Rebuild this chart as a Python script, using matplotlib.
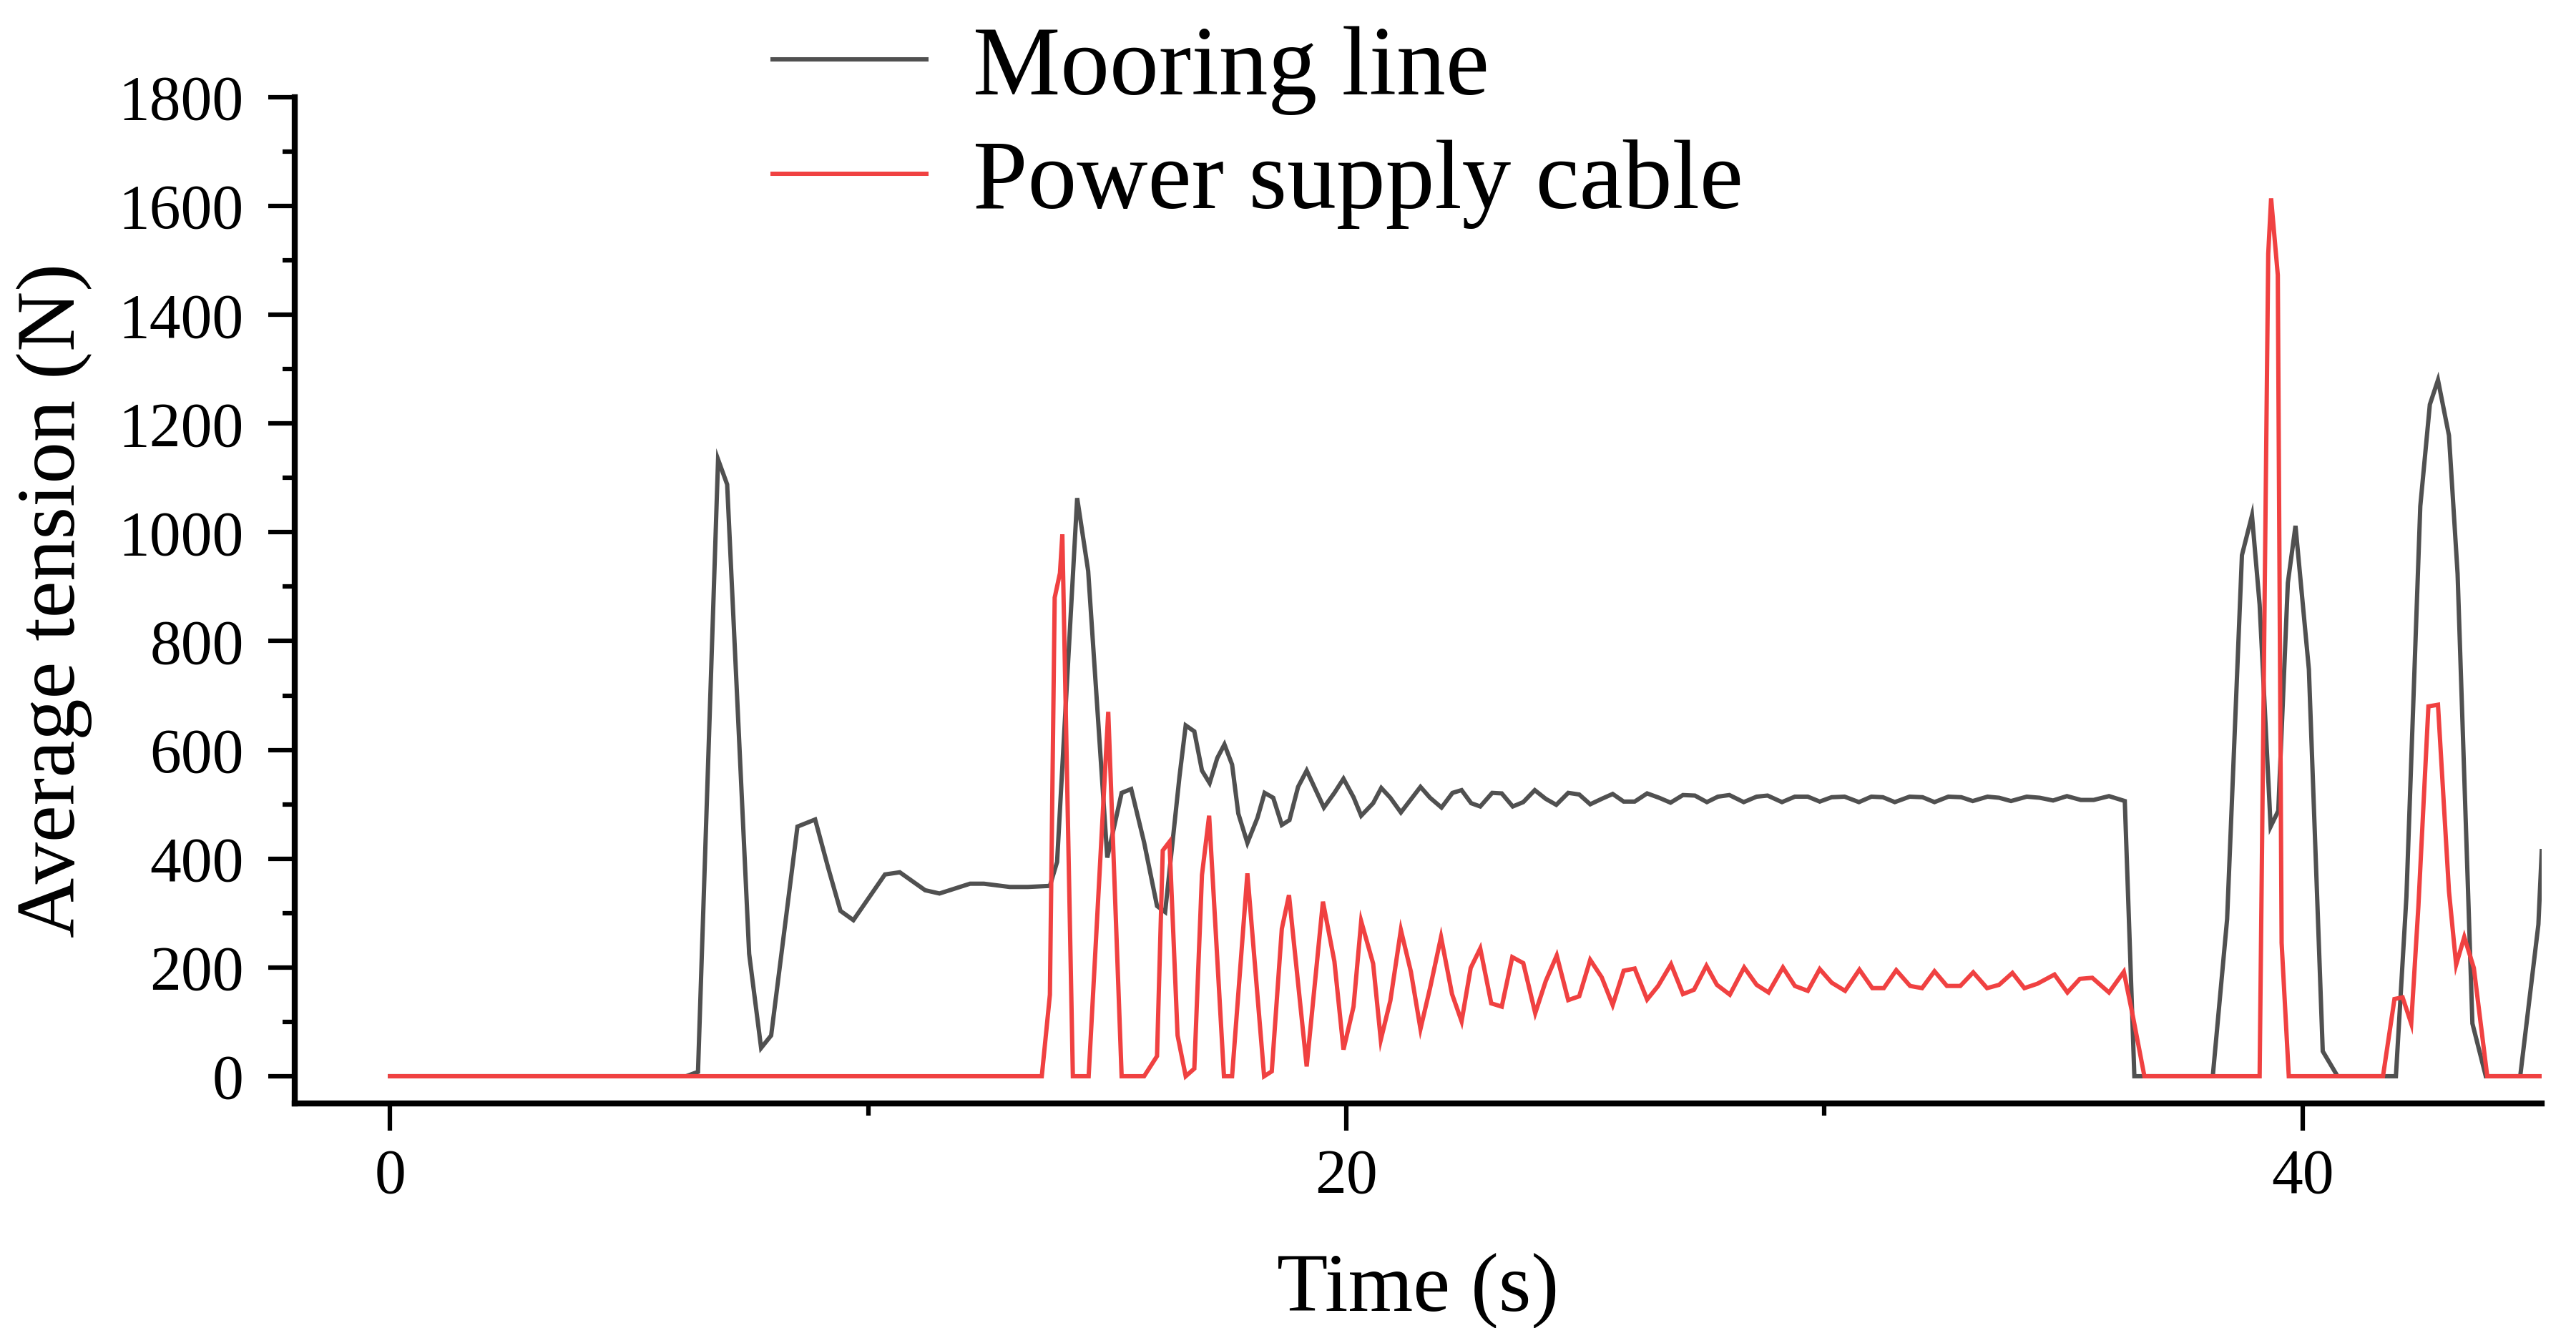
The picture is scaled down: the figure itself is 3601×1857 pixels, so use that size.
import matplotlib
matplotlib.use("Agg")
import matplotlib.pyplot as plt
from matplotlib.ticker import MultipleLocator

# ---- data ----
time_mooring = [0, 6.19, 6.44, 6.86, 7.05, 7.51, 7.76, 7.97, 8.25, 8.52, 8.89, 9.16, 9.42, 9.69,
                10.35, 10.66, 11.19, 11.49, 12.13, 12.42, 12.96, 13.34, 13.80, 13.95, 14.37, 14.60,
                15.00, 15.30, 15.50, 15.77, 16.04, 16.21, 16.51, 16.64, 16.82, 16.98, 17.14, 17.30,
                17.45, 17.61, 17.74, 17.93, 18.14, 18.29, 18.47, 18.65, 18.81, 18.99, 19.17, 19.53,
                19.75, 19.94, 20.15, 20.31, 20.56, 20.73, 20.92, 21.14, 21.35, 21.55, 21.75, 21.99,
                22.22, 22.41, 22.61, 22.80, 23.05, 23.25, 23.48, 23.70, 23.94, 24.17, 24.39, 24.64,
                24.87, 25.10, 25.34, 25.57, 25.80, 26.03, 26.29, 26.54, 26.78, 27.04, 27.29, 27.54,
                27.77, 28.01, 28.31, 28.58, 28.81, 29.11, 29.38, 29.65, 29.90, 30.15, 30.42, 30.72,
                30.98, 31.22, 31.47, 31.78, 32.05, 32.30, 32.59, 32.86, 33.10, 33.41, 33.65, 33.90,
                34.23, 34.50, 34.78, 35.07, 35.36, 35.63, 35.95, 36.28, 36.48, 38.12, 38.42, 38.73,
                38.94, 39.10, 39.33, 39.49, 39.69, 39.85, 40.13, 40.42, 40.73, 41.95, 42.17, 42.46,
                42.66, 42.83, 43.06, 43.24, 43.55, 43.83, 44.55, 44.93, 45.0]
tension_mooring = [0, 0, 8, 1134, 1088, 225, 52, 75, 270, 459, 472, 384, 304, 287,
                   371, 375, 342, 336, 354, 354, 348, 348, 350, 394, 1063, 929,
                   402, 521, 528, 430, 313, 302, 551, 645, 634, 562, 539, 585,
                   610, 573, 483, 429, 475, 521, 512, 462, 471, 532, 562, 494,
                   521, 547, 513, 479, 502, 530, 512, 485, 509, 532, 512, 494,
                   521, 526, 502, 496, 521, 520, 496, 504, 526, 510, 499, 521,
                   518, 500, 510, 519, 505, 505, 520, 512, 503, 517, 516, 504,
                   514, 517, 504, 514, 516, 504, 514, 514, 505, 513, 514, 504,
                   514, 513, 504, 514, 513, 504, 514, 513, 506, 514, 512, 506,
                   514, 512, 507, 515, 508, 508, 515, 506, 0, 0, 289, 958,
                   1031, 867, 459, 488, 907, 1012, 748, 46, 0, 0, 330, 1048,
                   1235, 1280, 1178, 924, 97, 0, 0, 279, 414]

time_cable = [0, 13.63, 13.80, 13.90, 14.01, 14.06, 14.28, 14.61, 15.02, 15.30, 15.77, 16.04,
              16.16, 16.30, 16.47, 16.64, 16.82, 16.98, 17.13, 17.44, 17.61, 17.93, 18.28, 18.44,
              18.65, 18.80, 19.17, 19.51, 19.75, 19.94, 20.15, 20.31, 20.56, 20.72, 20.92, 21.14,
              21.35, 21.55, 21.75, 21.98, 22.21, 22.41, 22.60, 22.80, 23.03, 23.25, 23.47, 23.70,
              23.95, 24.17, 24.40, 24.64, 24.87, 25.10, 25.34, 25.57, 25.80, 26.03, 26.29, 26.52,
              26.79, 27.04, 27.27, 27.53, 27.75, 28.02, 28.32, 28.58, 28.83, 29.13, 29.38, 29.65,
              29.90, 30.15, 30.43, 30.73, 31.00, 31.24, 31.50, 31.79, 32.04, 32.30, 32.56, 32.84,
              33.11, 33.40, 33.65, 33.93, 34.18, 34.45, 34.81, 35.08, 35.34, 35.60, 35.95, 36.26,
              36.45, 36.69, 39.10, 39.28, 39.34, 39.48, 39.56, 39.71, 41.68, 41.92, 42.09, 42.27,
              42.42, 42.63, 42.83, 43.06, 43.21, 43.38, 43.58, 43.86, 45.0]
tension_cable = [0, 0, 150, 880, 925, 996, 0, 0, 670, 0, 0, 37,
                 415, 431, 75, 0, 14, 370, 479, 0, 0, 373, 0, 9,
                 271, 333, 18, 321, 211, 49, 128, 285, 207, 67, 139, 269,
                 192, 87, 162, 256, 151, 101, 199, 235, 134, 128, 219, 208,
                 116, 175, 222, 140, 147, 214, 182, 131, 194, 198, 141, 166,
                 206, 151, 159, 203, 168, 150, 200, 168, 154, 200, 166, 157,
                 197, 172, 157, 196, 162, 162, 195, 166, 162, 193, 166, 166,
                 191, 162, 168, 190, 162, 170, 187, 154, 179, 181, 154, 192,
                 110, 0, 0, 1512, 1614, 1473, 245, 0, 0, 142, 145, 97,
                 312, 680, 683, 340, 205, 256, 199, 0, 0]

series_labels = ["Mooring line", "Power supply cable"]
series_colors = ["#505050", "#F04141"]
y_ticks = [0, 200, 400, 600, 800, 1000, 1200, 1400, 1600, 1800]
x_ticks = [0, 20, 40]

plt.rcParams['font.family'] = ['Liberation Serif', 'DejaVu Serif']

fig = plt.figure(figsize=(3601 / 300, 1857 / 300), dpi=300)
ax = fig.add_axes([0.1143, 0.1691, 0.8724, 0.7577])

ax.plot(time_mooring, tension_mooring, color=series_colors[0], lw=1.45,
        label=series_labels[0], solid_joinstyle='miter')
ax.plot(time_cable, tension_cable, color=series_colors[1], lw=1.45,
        label=series_labels[1], solid_joinstyle='miter')

ax.set_xlim(-2, 45)
ax.set_ylim(-50, 1800)
ax.set_xticks(x_ticks)
ax.set_yticks(y_ticks)
ax.xaxis.set_minor_locator(MultipleLocator(10))
ax.yaxis.set_minor_locator(MultipleLocator(100))

for s in ['top', 'right']:
    ax.spines[s].set_visible(False)
for s in ['left', 'bottom']:
    ax.spines[s].set_linewidth(2.0)
    ax.spines[s].set_capstyle('projecting')

ax.tick_params(axis='both', which='major', length=9, width=1.5, labelsize=21, direction='out')
ax.tick_params(axis='both', which='minor', length=4, width=1.5, direction='out')
ax.tick_params(axis='x', which='major', pad=6)
ax.tick_params(axis='y', which='major', pad=8)

ax.set_xlabel("Time (s)", fontsize=28)
ax.set_ylabel("Average tension (N)", fontsize=28)
ax.xaxis.set_label_coords(0.5, -0.148)
ax.yaxis.set_label_coords(-0.0898, 0.5)

fig.legend(loc='upper left', bbox_to_anchor=(1080 / 3601, 0.981), frameon=False,
           fontsize=33, handlelength=1.56, handletextpad=0.48, labelspacing=0.25,
           borderpad=0, borderaxespad=0)

fig.savefig("out.png", dpi=300)
